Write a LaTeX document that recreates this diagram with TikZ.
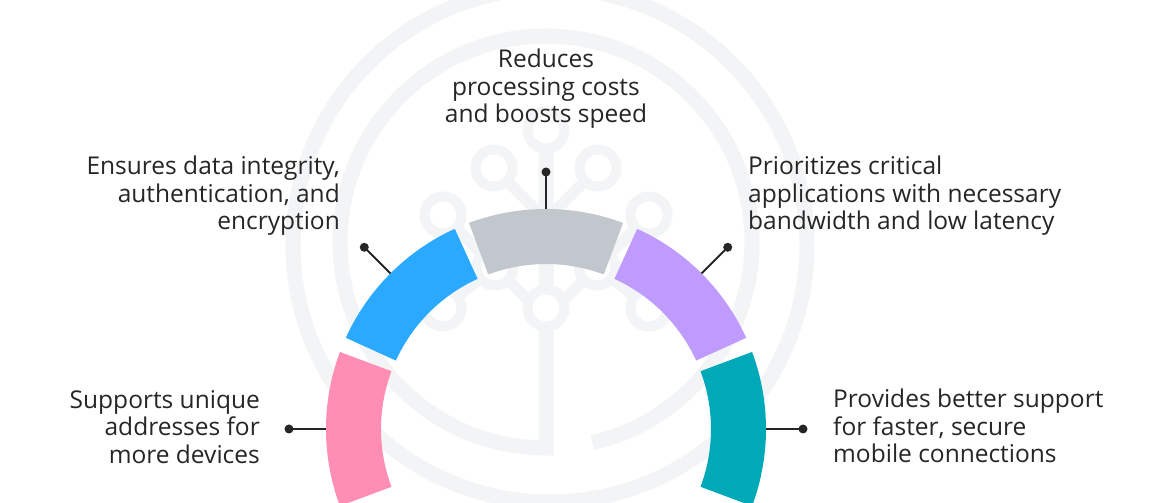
\documentclass[tikz,border=0pt]{standalone}
\usepackage{fontspec}
\setmainfont{Open Sans}
\definecolor{wmgray}{HTML}{F3F4F6}
\definecolor{ink}{HTML}{262626}
\definecolor{segpink}{HTML}{FF8DB4}
\definecolor{segblue}{HTML}{2AA9FF}
\definecolor{seggray}{HTML}{C1C7CD}
\definecolor{segpurple}{HTML}{BE9BFC}
\definecolor{segteal}{HTML}{00A9B8}
\begin{document}
\begin{tikzpicture}[x=1pt,y=1pt,
  wmring/.style={draw=wmgray, line width=15pt},
  wmline/.style={draw=wmgray, line width=11pt},
  wmnode/.style={draw=wmgray, fill=white, line width=10pt},
  leader/.style={draw=ink, line width=2pt},
  tip/.style={fill=ink},
  label/.style={text=ink, inner sep=0pt, font=\fontsize{24.5}{27.5}\selectfont,
    execute at begin node={\rule{0pt}{20pt}}},
]
\useasboundingbox (0,0) rectangle (1149,503);
\clip (0,0) rectangle (1149,503);
\fill[white] (0,0) rectangle (1149,503);

% faint logo in the background: outer ring, ring with trunk, branch nodes
\draw[wmring] (550,258) circle[radius=257];
\draw[wmring] (546,373) -- (546,55) arc[start angle=-90, delta angle=-347, radius=206];
\coordinate (nT)  at (546,373);
\coordinate (nL1) at (494,335);
\coordinate (nR1) at (598,335);
\coordinate (nL2) at (443,288);
\coordinate (nR2) at (649,288);
\coordinate (nL3) at (495,236);
\coordinate (nR3) at (597,236);
\coordinate (nL4) at (443,195);
\coordinate (nR4) at (649,195);
\coordinate (nB)  at (546,195);
\coordinate (j1) at (546,283);
\coordinate (j2) at (546,185);
\draw[wmline] (nL1) -- (j1) -- (nR1);
\draw[wmline] (nL2) -- (nL3) -- (j2) -- (nR3) -- (nR2);
\draw[wmline] (nL4) -- (nL3);
\draw[wmline] (nR4) -- (nR3);
\foreach \n in {nT,nL1,nR1,nL2,nR2,nL3,nR3,nL4,nR4,nB}
  \draw[wmnode] (\n) circle[radius=18.5];

% centre of the gauge
\coordinate (C) at (546,74);

% five ring segments with their leaders
\foreach \a/\col/\nm in {180/segpink/p,135/segblue/b,90/seggray/g,45/segpurple/v,0/segteal/t}{
  \fill[\col] ([shift={(\a-20.5:220)}]C) arc[start angle=\a-20.5, end angle=\a+20.5, radius=220]
    -- ([shift={(\a+20.5:165)}]C) arc[start angle=\a+20.5, end angle=\a-20.5, radius=165] -- cycle;
  \coordinate (s\nm) at ([shift={(\a:220)}]C);
  \coordinate (d\nm) at ([shift={(\a:257)}]C);
  \draw[leader] (s\nm) -- (d\nm);
  \fill[tip] (d\nm) circle[radius=4.5];
}

% captions
\node[label, anchor=north, align=center] (tg) at (546,454)
  {Reduces\\processing costs\\and boosts speed};
\node[label, anchor=north east, align=right] (tb) at (340,347)
  {Ensures data integrity,\\authentication, and\\encryption};
\node[label, anchor=north west, align=left] (tv) at (748,347)
  {Prioritizes critical\\applications with necessary\\bandwidth and low latency};
\node[label, anchor=north east, align=right] (tp) at (260,113)
  {Supports unique\\addresses for\\more devices};
\node[label, anchor=north west, align=left] (tt) at (833,114)
  {Provides better support\\for faster, secure\\mobile connections};
\end{tikzpicture}
\end{document}
